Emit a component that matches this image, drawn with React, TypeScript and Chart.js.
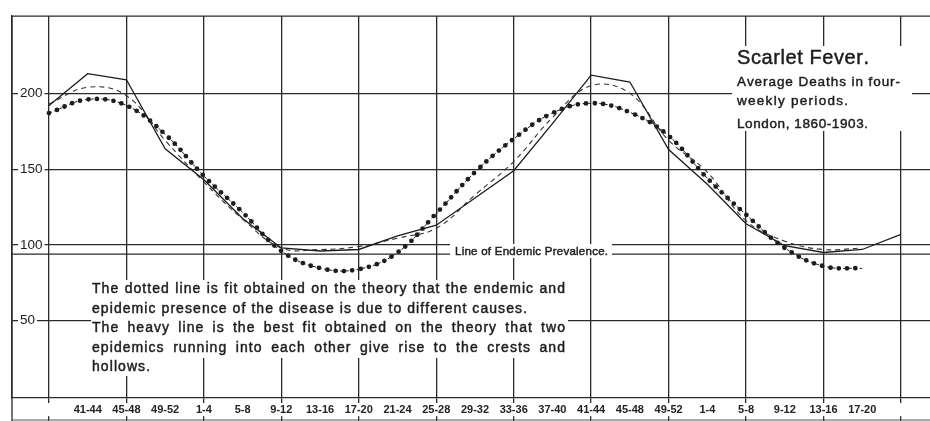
import React, { useEffect, useRef } from 'react';
import { Chart, registerables } from 'chart.js';

Chart.register(...registerables);

// ---- data ----
const TICK_LABELS = ['', '41-44', '45-48', '49-52', '1-4', '5-8', '9-12', '13-16', '17-20', '21-24', '25-28', '29-32', '33-36', '37-40', '41-44', '45-48', '49-52', '1-4', '5-8', '9-12', '13-16', '17-20', ''];
const OBSERVED = [192, 213, 209, 163.5, 143, 117.5, 98, 96, 97, 106, 113, 131, 149, 180, 212, 207.5, 163, 140, 114, 99.5, 95, 97, 107];
const FIT_TWO_EPIDEMICS = [193, 204, 198.5, 169, 141.5, 117, 98, 97, 99, 104.5, 111, 133, 155, 184, 205, 200, 169, 148, 116, 102.5, 97, 98, null];
const FIT_ENDEMIC = [187, 196, 192, 173, 145.5, 121.5, 96, 84.7, 84, 95, 120.8, 148, 170, 187, 193.5, 187.5, 172, 144, 120, 98, 86, 84.5, null];
const ENDEMIC_LEVEL = 94;
const Y_TICKS = [50, 100, 150, 200];

const TITLE = 'Scarlet Fever.';
const SUBTITLE = ['Average Deaths in four-', 'weekly periods.', 'London, 1860-1903.'];
const ENDEMIC_LABEL = 'Line of Endemic Prevalence.';
const NOTE = [
  'The dotted line is fit obtained on the theory that the endemic and',
  'epidemic presence of the disease is due to different causes.',
  'The heavy line is the best fit obtained on the theory that two',
  'epidemics running into each other give rise to the crests and',
  'hollows.',
];

// ---- layout / style ----
const X_MIN = -0.955;
const X_MAX = 22.75;
const Y_MIN = -1;
const Y_MAX = 251;
const INK = '#1d1d1d';
const GRID = '#2a2a2a';
const FAMILY = '"Liberation Sans", Arial, sans-serif';

const toPoints = (arr: (number | null)[]) =>
  arr.map((v, i) => (v == null ? null : { x: i, y: v })).filter(Boolean) as { x: number; y: number }[];

function charsWidth(ctx: CanvasRenderingContext2D, text: string) {
  let w = 0;
  for (const ch of text) w += ctx.measureText(ch).width;
  return w;
}
function drawSpaced(ctx: CanvasRenderingContext2D, text: string, x: number, y: number, spacing: number) {
  let cx = x;
  for (const ch of text) {
    ctx.fillText(ch, cx, y);
    ctx.strokeText(ch, cx, y);
    cx += ctx.measureText(ch).width + spacing;
  }
  return cx;
}
function spacingFor(ctx: CanvasRenderingContext2D, text: string, width: number) {
  const n = [...text].length;
  return (width - charsWidth(ctx, text)) / Math.max(1, n - 1);
}
function drawFit(ctx: CanvasRenderingContext2D, text: string, x: number, y: number, width: number) {
  drawSpaced(ctx, text, x, y, spacingFor(ctx, text, width));
}
function drawJustified(ctx: CanvasRenderingContext2D, text: string, x: number, y: number, width: number, spacing: number) {
  const words = text.split(' ');
  const ws = words.map((w) => charsWidth(ctx, w) + spacing * ([...w].length - 1));
  const total = ws.reduce((a, b) => a + b, 0);
  const gap = (width - total) / (words.length - 1);
  let cx = x;
  words.forEach((w, i) => {
    drawSpaced(ctx, w, cx, y, spacing);
    cx += ws[i] + gap;
  });
}

const overlayPlugin = {
  id: 'overlay',
  beforeDatasetsDraw(chart: any) {
    const { ctx, chartArea } = chart;
    ctx.save();
    ctx.strokeStyle = GRID;
    ctx.lineWidth = 1.3;
    ctx.beginPath();
    ctx.moveTo(chartArea.left, chartArea.top);
    ctx.lineTo(chart.width, chartArea.top);
    ctx.moveTo(chartArea.left, chartArea.top);
    ctx.lineTo(chartArea.left, chart.height);
    ctx.stroke();
    ctx.lineWidth = 1;
    ctx.strokeStyle = '#555';
    ctx.beginPath();
    ctx.moveTo(chartArea.left, chart.height - 1);
    ctx.lineTo(chart.width, chart.height - 1);
    ctx.stroke();
    ctx.restore();
  },
  afterDatasetsDraw(chart: any) {
    const { ctx } = chart;
    ctx.save();
    // white boxes breaking the grid
    ctx.fillStyle = '#fff';
    ctx.fillRect(732, 46, 180, 85);
    ctx.fillRect(91, 280, 477, 78);
    ctx.fillRect(91, 358, 61, 18);
    ctx.fillRect(450, 244, 162, 14);

    ctx.fillStyle = INK;
    ctx.strokeStyle = INK;
    ctx.lineWidth = 0.45;
    ctx.textBaseline = 'alphabetic';
    ctx.textAlign = 'left';

    ctx.font = `20px ${FAMILY}`;
    drawFit(ctx, TITLE, 737, 64, 132);
    ctx.font = `13.5px ${FAMILY}`;
    drawFit(ctx, SUBTITLE[0], 737, 86, 163);
    drawFit(ctx, SUBTITLE[1], 737, 105, 111);
    drawFit(ctx, SUBTITLE[2], 737, 127.5, 131);

    ctx.font = `11.5px ${FAMILY}`;
    drawFit(ctx, ENDEMIC_LABEL, 455, 255, 153);

    ctx.font = `14px ${FAMILY}`;
    const sp = spacingFor(ctx, NOTE[1], 435);
    const base = [293, 312.5, 332, 351.5, 371];
    drawJustified(ctx, NOTE[0], 92, base[0], 473, sp);
    drawSpaced(ctx, NOTE[1], 92, base[1], sp);
    drawJustified(ctx, NOTE[2], 92, base[2], 473, sp);
    drawJustified(ctx, NOTE[3], 92, base[3], 473, sp);
    drawSpaced(ctx, NOTE[4], 92, base[4], sp);
    ctx.restore();
  },
};

export default function App() {
  const ref = useRef<HTMLCanvasElement | null>(null);
  useEffect(() => {
    if (!ref.current) return;
    const evenGrid = (c: any) =>
      c.tick && Number.isInteger(c.tick.value) && c.tick.value % 2 === 0 ? GRID : 'rgba(0,0,0,0)';
    const chart = new Chart(ref.current, {
      type: 'line',
      data: {
        datasets: [
          {
            label: 'Line of Endemic Prevalence',
            data: [
              { x: X_MIN, y: ENDEMIC_LEVEL },
              { x: X_MAX, y: ENDEMIC_LEVEL },
            ],
            borderColor: GRID,
            borderWidth: 1.3,
            pointRadius: 0,
          },
          {
            label: 'Observed',
            data: toPoints(OBSERVED),
            borderColor: INK,
            borderWidth: 1.3,
            pointRadius: 0,
            tension: 0,
          },
          {
            label: 'Two epidemics fit',
            data: toPoints(FIT_TWO_EPIDEMICS),
            borderColor: '#333',
            borderWidth: 1.1,
            borderDash: [5, 4],
            pointRadius: 0,
            tension: 0.4,
          },
          {
            label: 'Endemic + epidemic fit (link)',
            data: toPoints(FIT_ENDEMIC),
            borderColor: INK,
            borderWidth: 1,
            borderDash: [3, 2.5],
            pointRadius: 0,
            tension: 0.4,
          },
          {
            label: 'Endemic + epidemic fit',
            data: toPoints(FIT_ENDEMIC),
            borderColor: INK,
            borderWidth: 4.8,
            borderDash: [0, 8.4],
            borderCapStyle: 'round',
            pointRadius: 0,
            tension: 0.4,
          },
        ],
      },
      options: {
        animation: false,
        responsive: true,
        maintainAspectRatio: false,
        layout: { padding: { left: 12, top: 9, right: 0, bottom: 0 } },
        plugins: { legend: { display: false }, tooltip: { enabled: false } },
        events: [],
        scales: {
          x: {
            type: 'linear',
            min: X_MIN,
            max: X_MAX,
            afterBuildTicks: (s: any) => {
              s.ticks = TICK_LABELS.map((_, i) => ({ value: i }));
            },
            afterFit: (s: any) => {
              s.height = 23;
            },
            grid: { color: evenGrid, tickColor: evenGrid, lineWidth: 1.3, tickLength: 23, drawTicks: true },
            border: { display: true, color: GRID, width: 1.3 },
            ticks: {
              autoSkip: false,
              maxRotation: 0,
              padding: -18,
              color: '#222',
              font: { family: FAMILY, size: 11, weight: 'bold' },
              callback: (v: any) => TICK_LABELS[v] ?? '',
              showLabelBackdrop: true,
              backdropColor: '#fff',
              backdropPadding: { top: 0, bottom: 0, left: 1, right: 1 },
            },
          },
          y: {
            min: Y_MIN,
            max: Y_MAX,
            afterBuildTicks: (s: any) => {
              s.ticks = Y_TICKS.map((v) => ({ value: v }));
            },
            afterFit: (s: any) => {
              s.width = 0;
            },
            grid: { color: GRID, lineWidth: 1.2, drawTicks: false },
            border: { display: true, color: GRID, width: 1.3 },
            ticks: {
              mirror: true,
              padding: 8,
              color: INK,
              font: { family: FAMILY, size: 13.5 },
              showLabelBackdrop: true,
              backdropColor: '#fff',
              backdropPadding: { top: 0, bottom: 0, left: 2, right: 2 },
            },
          },
        },
      } as any,
      plugins: [overlayPlugin],
    });
    return () => chart.destroy();
  }, []);
  return (
    <div style={{ position: 'absolute', left: 0, top: 0, width: 930, height: 421, background: '#fff' }}>
      <canvas ref={ref} />
    </div>
  );
}
